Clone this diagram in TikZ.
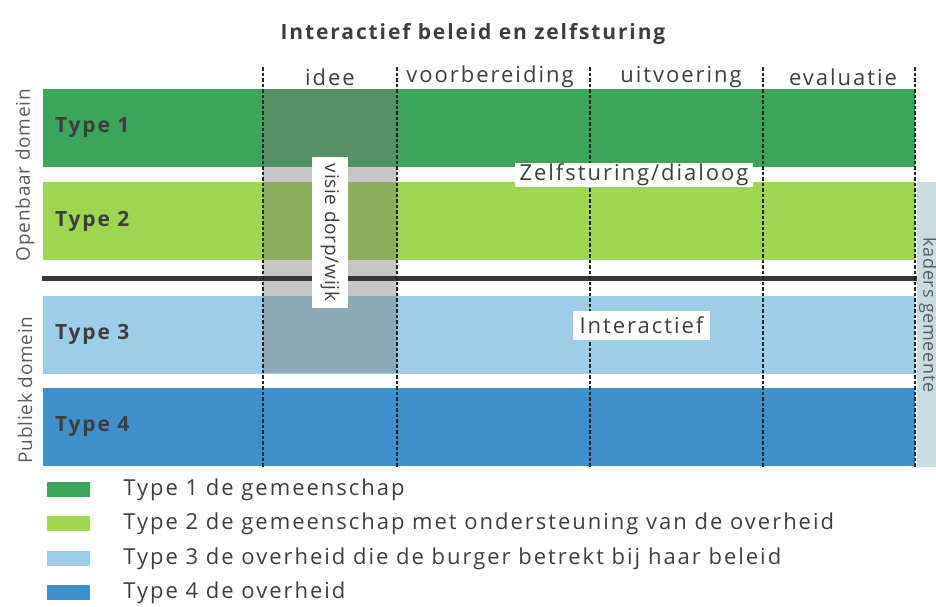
\documentclass[tikz,border=0pt]{standalone}
\usepackage{fontspec}
\setmainfont{Open Sans}[LetterSpace=9]
\newfontfamily\tightfont{Open Sans}[LetterSpace=4]
\usepackage{xcolor}
\usepackage{tikz}
\usetikzlibrary{positioning}

\definecolor{typeone}{RGB}{60,165,92}
\definecolor{typetwo}{RGB}{160,213,80}
\definecolor{typethree}{RGB}{158,206,231}
\definecolor{typefour}{RGB}{63,143,202}
\definecolor{kadersgrey}{RGB}{201,221,225}
\definecolor{textgrey}{RGB}{62,62,62}
\definecolor{shadegrey}{RGB}{119,119,119}

\begin{document}
\begin{tikzpicture}[
    x=1pt, y=-1pt,
    band/.style={rectangle, inner sep=0pt, minimum width=872pt, minimum height=78pt},
    typelabel/.style={font=\fontsize{21}{24}\selectfont\bfseries, text=textgrey, inner sep=0pt},
    phase/.style={font=\fontsize{22}{26}\selectfont, text=textgrey, inner sep=0pt},
    divider/.style={dash pattern=on 3.5pt off 2pt, line width=1.5pt, draw=black!85},
    tag/.style={rectangle, fill=white, inner sep=0pt, font=\fontsize{22}{26}\selectfont, text=textgrey},
    domaintext/.style={rotate=90, font=\tightfont\fontsize{19}{22}\selectfont, text=textgrey!85, inner sep=0pt},
    swatch/.style={rectangle, inner sep=0pt, minimum width=43pt, minimum height=15pt},
    legend/.style={font=\fontsize{22}{26}\selectfont, text=textgrey, inner sep=0pt}
]
    \useasboundingbox (0,0) rectangle (936,606);

    % Title
    \node[font=\fontsize{21}{25}\selectfont\bfseries, text=textgrey] (title) at (473,34) {Interactief beleid en zelfsturing};

    % Phases
    \node[phase] (idee) at (330,77) {idee};
    \node[phase] (voorb) at (490,77) {voorbereiding};
    \node[phase] (uitv) at (681,77) {uitvoering};
    \node[phase] (eval) at (843,77) {evaluatie};

    % Kaders gemeente
    \node[rectangle, fill=kadersgrey, inner sep=0pt, minimum width=19pt, minimum height=285pt] (kaders) at (926.5,324.5) {};
    \node[rotate=-90, font=\tightfont\fontsize{18}{22}\selectfont, text=textgrey!85, inner sep=0pt] (kaderstext) at (928,315) {kaders gemeente};

    % Bands
    \node[band, fill=typeone] (band1) at (479,128) {};
    \node[band, fill=typetwo] (band2) at (479,221) {};
    \node[band, fill=typethree] (band3) at (479,334.5) {};
    \node[band, fill=typefour] (band4) at (479,427) {};

    % Idee column
    \node[rectangle, fill=shadegrey, fill opacity=0.42, inner sep=0pt, minimum width=134pt, minimum height=284pt] (ideezone) at (330,231) {};

    % Border between domains
    \draw[line width=5pt, draw=black!78] (42,278) -- (917,278);

    \node[typelabel, right=12pt of band1.west] (type1) {Type 1};
    \node[typelabel, right=12pt of band2.west] (type2) {Type 2};
    \node[typelabel, right=12pt of band3.west] (type3) {Type 3};
    \node[typelabel, right=12pt of band4.west] (type4) {Type 4};

    % Dividers
    \foreach \x in {263,397,590,763,915}
        \draw[divider] (\x,67) -- (\x,467);

    % Tags
    \node[tag, minimum width=238pt, minimum height=24pt] (zelf) at (634,175) {Zelfsturing/dialoog};
    \node[tag, minimum width=137pt, minimum height=29pt] (inter) at (641.5,325.5) {Interactief};
    \node[tag, rotate=-90, font=\tightfont\fontsize{19}{22}\selectfont, minimum width=151pt, minimum height=36pt] (visie) at (330,232.5) {visie dorp/wijk};

    % Domains
    \node[domaintext] (openbaar) at (25,175) {Openbaar domein};
    \node[domaintext] (publiek) at (25,390) {Publiek domein};

    % Legend
    \node[swatch, fill=typeone] (sw1) at (68.5,489.5) {};
    \node[swatch, fill=typetwo, below=19pt of sw1] (sw2) {};
    \node[swatch, fill=typethree, below=19pt of sw2] (sw3) {};
    \node[swatch, fill=typefour, below=19pt of sw3] (sw4) {};
    \node[legend, right=33pt of sw1] (lg1) {Type 1 de gemeenschap};
    \node[legend, right=33pt of sw2] (lg2) {Type 2 de gemeenschap met ondersteuning van de overheid};
    \node[legend, right=33pt of sw3] (lg3) {Type 3 de overheid die de burger betrekt bij haar beleid};
    \node[legend, right=33pt of sw4] (lg4) {Type 4 de overheid};
\end{tikzpicture}
\end{document}
